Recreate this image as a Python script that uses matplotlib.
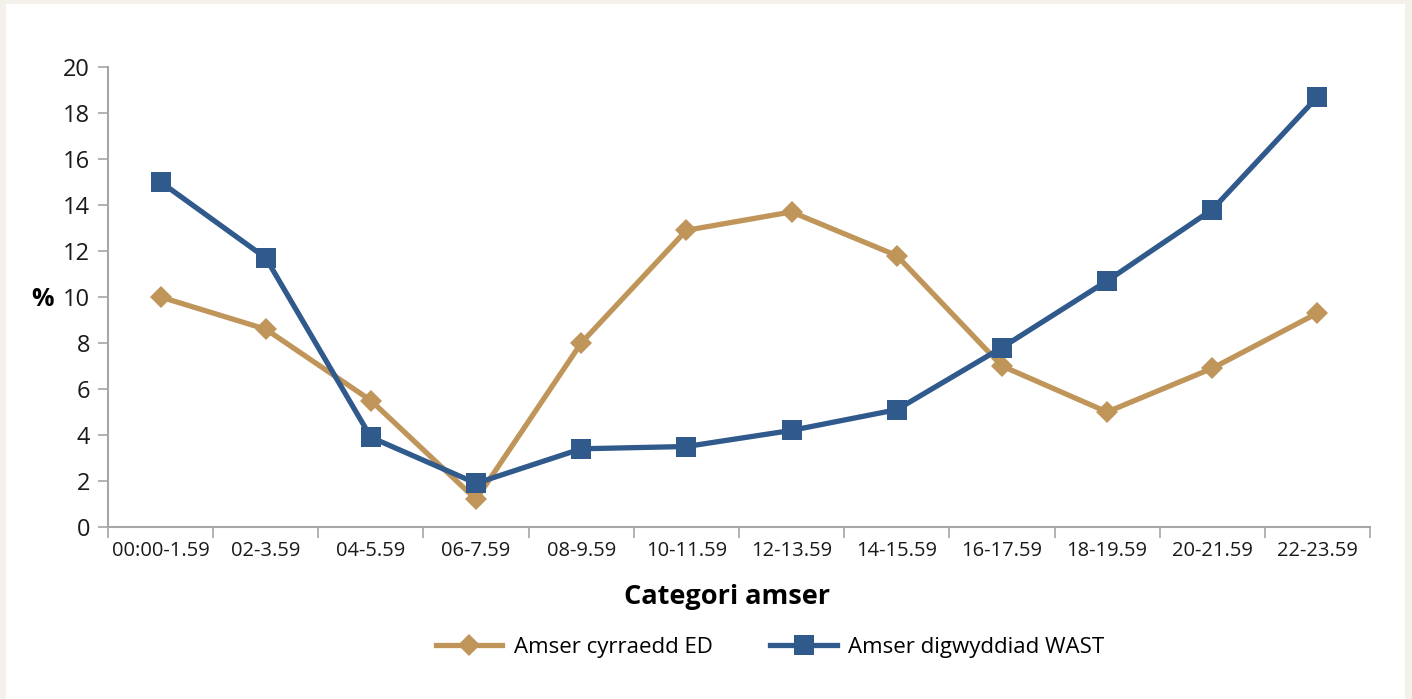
import matplotlib

matplotlib.use("Agg")
import matplotlib.pyplot as plt
from matplotlib.patches import Rectangle
from matplotlib.lines import Line2D
import numpy as np

categories = ["00:00-1.59", "02-3.59", "04-5.59", "06-7.59", "08-9.59", "10-11.59",
              "12-13.59", "14-15.59", "16-17.59", "18-19.59", "20-21.59", "22-23.59"]
ed_arrival = [10.0, 8.6, 5.5, 1.2, 8.0, 12.9, 13.7, 11.8, 7.0, 5.0, 6.9, 9.3]
wast_incident = [15.0, 11.7, 3.9, 1.9, 3.4, 3.5, 4.2, 5.1, 7.8, 10.7, 13.8, 18.7]
y_ticks = list(range(0, 21, 2))

TAN = "#C0955A"
BLUE = "#30598C"
AXIS = "#A6A6A6"

plt.rcParams["font.family"] = ["Open Sans", "DejaVu Sans"]

W, H = 1412, 699
fig = plt.figure(figsize=(W / 100, H / 100), dpi=100, facecolor="#F4F0EA")
fig.add_artist(Rectangle((6 / W, 0), (1405 - 6) / W, (H - 4) / H,
                         transform=fig.transFigure, facecolor="white",
                         edgecolor="none", zorder=-10))

ax = fig.add_axes([108 / W, 1 - 527 / H, (1370 - 108) / W, (527 - 67) / H])
ax.set_facecolor("none")
ax.set_zorder(5)

x = np.arange(len(categories))
ax.plot(x, ed_arrival, color=TAN, lw=3.8, marker="D", ms=11,
        markeredgewidth=0, solid_joinstyle="round", clip_on=False, zorder=3)
ax.plot(x, wast_incident, color=BLUE, lw=3.8, marker="s", ms=14,
        markeredgewidth=0, solid_joinstyle="round", clip_on=False, zorder=4)

ax.set_xlim(-0.5, len(categories) - 0.5)
ax.set_ylim(0, 20)
ax.set_yticks(y_ticks)
ax.set_yticklabels([str(v) for v in y_ticks], fontsize=17, color="#1a1a1a")
ax.set_xticks(np.arange(-0.5, len(categories)), labels=[])
ax.set_xticks(x, labels=categories, minor=True)
ax.tick_params(axis="x", which="major", length=8, color=AXIS, width=1.2)
ax.tick_params(axis="x", which="minor", length=0, labelsize=14.5,
               labelcolor="#1a1a1a", pad=10)
ax.tick_params(axis="y", length=7, color=AXIS, width=1.2, pad=6)

for side in ("top", "right"):
    ax.spines[side].set_visible(False)
for side in ("left", "bottom"):
    ax.spines[side].set_color(AXIS)
    ax.spines[side].set_linewidth(1.5)

fig.text(42 / W, 1 - 300 / H, "%", fontsize=18, fontweight="bold",
         ha="center", va="center")
fig.text(727 / W, 1 - 597 / H, "Categori amser", fontsize=19.5,
         fontweight="bold", ha="center", va="center")

handles = [
    Line2D([], [], color=TAN, lw=3.8, marker="D", ms=11, markeredgewidth=0),
    Line2D([], [], color=BLUE, lw=3.8, marker="s", ms=14, markeredgewidth=0),
]
fig.legend(handles, ["Amser cyrraedd ED", "Amser digwyddiad WAST"],
           loc="center", bbox_to_anchor=(770 / W, 1 - 647 / H), ncol=2,
           frameon=False, fontsize=16, handlelength=3.0, columnspacing=2.6,
           handletextpad=0.5)

fig.savefig("out.png", dpi=100, facecolor=fig.get_facecolor())
